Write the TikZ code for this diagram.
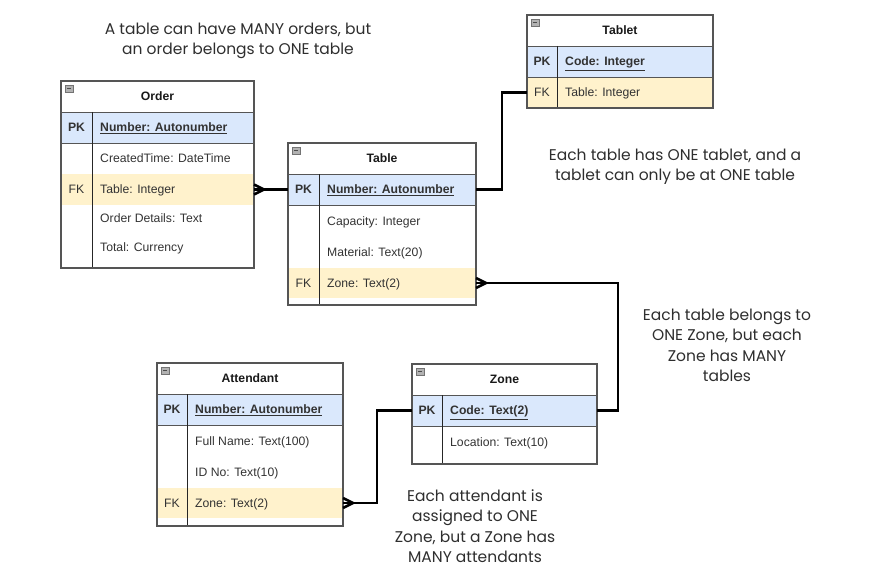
\documentclass[tikz,border=0pt]{standalone}
\usepackage{fontspec}
\setmainfont{Liberation Sans}
\newfontfamily\notefont{Poppins}
\usepackage{tikz}
\usetikzlibrary{positioning}

\definecolor{pkblue}{HTML}{DAE8FC}
\definecolor{fkyellow}{HTML}{FFF2CC}
\definecolor{edgegrey}{HTML}{555555}
\definecolor{txtgrey}{HTML}{333333}
\definecolor{notegrey}{HTML}{2E2E2E}

\tikzset{
  every node/.style={font=\fontsize{12.2}{14}\selectfont, text=txtgrey},
  entity/.style={draw=edgegrey, line width=1.2pt},
  rule/.style={draw=edgegrey, line width=0.9pt},
  divider/.style={draw=black!85, line width=1pt},
  pkrow/.style={anchor=west, fill=pkblue, minimum height=31pt, inner sep=0pt, outer sep=0pt},
  fkrow/.style={anchor=west, fill=fkyellow, minimum height=30pt, inner sep=0pt, outer sep=0pt},
  key/.style={font=\fontsize{12.2}{14}\selectfont\bfseries, text height=8.6pt, text depth=0pt, inner sep=0pt},
  field/.style={anchor=west, text height=8.6pt, text depth=0pt, inner sep=0pt},
  keyfield/.style={field, font=\fontsize{12.2}{14}\selectfont\bfseries},
  title/.style={font=\fontsize{12.2}{14}\selectfont\bfseries, text=black!90, text height=8.6pt, text depth=0pt, inner sep=0pt},
  note/.style={font=\notefont\fontsize{15.5}{20.5}\selectfont, align=center, text=notegrey},
  conn/.style={draw=black, line width=2.8pt},
  minus/.pic={
    \draw[fill=black!30, draw=black!55, line width=0.6pt] (0,0) rectangle (8,7);
    \draw[black!70, line width=0.8pt] (2,3.5) -- (6,3.5);
  },
  crowfoot/.pic={\draw[conn, line width=2.6pt] (0,-5) -- (10,0) -- (0,5);}
}

\begin{document}
\begin{tikzpicture}[x=1pt, y=-1pt]
\useasboundingbox (0,0) rectangle (869,572);

% Order
\node[pkrow, minimum width=193pt] (orderpk) at (61,127.5) {};
\node[fkrow, minimum width=193pt] (orderfk) at (61,189.5) {};
\draw[rule] (61,112) -- (254,112) (61,143) -- (254,143);
\draw[divider] (92,112) -- (92,268);
\draw[entity] (61,81) rectangle (254,268);
\pic at (65,85) {minus};
\node[title] (ordertitle) at (157.5,96.5) {Order};
\node[key] (orderpkkey) at (76.5,127.5) {PK};
\node[keyfield] (orderpkfield) at (100,127.5) {\underline{Number: Autonumber}};
\node[field] (ordercreated) at (100,158.5) {CreatedTime: DateTime};
\node[key, font=\fontsize{12.2}{14}\selectfont] (orderfkkey) at (76.5,189.5) {FK};
\node[field] (orderfkfield) at (100,189.5) {Table: Integer};
\node[field] (orderdetails) at (100,218) {Order Details: Text};
\node[field] (ordertotal) at (100,247) {Total: Currency};

% Table
\node[pkrow, minimum width=188pt] (tablepk) at (288,189.5) {};
\node[fkrow, minimum width=188pt] (tablefk) at (288,283) {};
\draw[rule] (288,174) -- (476,174) (288,205) -- (476,205);
\draw[divider] (319,174) -- (319,305);
\draw[entity] (288,143) rectangle (476,305);
\pic at (292,147) {minus};
\node[title] (tabletitle) at (382,158.5) {Table};
\node[key] (tablepkkey) at (303.5,189.5) {PK};
\node[keyfield] (tablepkfield) at (327,189.5) {\underline{Number: Autonumber}};
\node[field] (tablecapacity) at (327,221) {Capacity: Integer};
\node[field] (tablematerial) at (327,252) {Material: Text(20)};
\node[key, font=\fontsize{12.2}{14}\selectfont] (tablefkkey) at (303.5,283) {FK};
\node[field] (tablefkfield) at (327,283) {Zone: Text(2)};

% Tablet
\node[pkrow, minimum width=186pt] (tabletpk) at (527,61.5) {};
\node[fkrow, minimum width=186pt, minimum height=31pt] (tabletfk) at (527,92.5) {};
\draw[rule] (527,46) -- (713,46) (527,77) -- (713,77);
\draw[divider] (557,46) -- (557,108);
\draw[entity] (527,15) rectangle (713,108);
\pic at (531,19) {minus};
\node[title] (tablettitle) at (620,30.5) {Tablet};
\node[key] (tabletpkkey) at (542,61.5) {PK};
\node[keyfield] (tabletpkfield) at (565,61.5) {\underline{Code: Integer}};
\node[key, font=\fontsize{12.2}{14}\selectfont] (tabletfkkey) at (542,92.5) {FK};
\node[field] (tabletfkfield) at (565,92.5) {Table: Integer};

% Attendant
\node[pkrow, minimum width=186pt] (attendantpk) at (157,409.5) {};
\node[fkrow, minimum width=186pt] (attendantfk) at (157,503) {};
\draw[rule] (157,394) -- (343,394) (157,425) -- (343,425);
\draw[divider] (187,394) -- (187,526);
\draw[entity] (157,363) rectangle (343,526);
\pic at (161,367) {minus};
\node[title] (attendanttitle) at (250,378.5) {Attendant};
\node[key] (attendantpkkey) at (172,409.5) {PK};
\node[keyfield] (attendantpkfield) at (195,409.5) {\underline{Number: Autonumber}};
\node[field] (attendantname) at (195,441) {Full Name: Text(100)};
\node[field] (attendantid) at (195,472) {ID No: Text(10)};
\node[key, font=\fontsize{12.2}{14}\selectfont] (attendantfkkey) at (172,503) {FK};
\node[field] (attendantfkfield) at (195,503) {Zone: Text(2)};

% Zone
\node[pkrow, minimum width=185pt] (zonepk) at (412,410.5) {};
\draw[rule] (412,395) -- (597,395) (412,426) -- (597,426);
\draw[divider] (442,395) -- (442,464);
\draw[entity] (412,364) rectangle (597,464);
\pic at (416,368) {minus};
\node[title] (zonetitle) at (504.5,379.5) {Zone};
\node[key] (zonepkkey) at (427,410.5) {PK};
\node[keyfield] (zonepkfield) at (450,410.5) {\underline{Code: Text(2)}};
\node[field] (zonelocation) at (450,442) {Location: Text(10)};

% relationships
\draw[conn] (orderfk.east) -- (tablepk.west);
\pic at (orderfk.east) {crowfoot};
\draw[conn] (tablepk.east) -- ++(26,0) |- (tabletfk.west);
\draw[conn] (tablefk.east) -- ++(142,0) |- (zonepk.east);
\pic at (tablefk.east) {crowfoot};
\draw[conn] (attendantfk.east) -- ++(34,0) |- (zonepk.west);
\pic at (attendantfk.east) {crowfoot};

% notes
\node[note] (notetableorder) at (238,41) {A table can have MANY orders, but\\an order belongs to ONE table};
\node[note] (notetablet) at (675,167) {Each table has ONE tablet, and a\\tablet can only be at ONE table};
\node[note] (notezone) at (727,345.5) {Each table belongs to\\ONE Zone, but each\\Zone has MANY\\tables};
\node[note] (noteattendant) at (475,526) {Each attendant is\\assigned to ONE\\Zone, but a Zone has\\MANY attendants};
\end{tikzpicture}
\end{document}
